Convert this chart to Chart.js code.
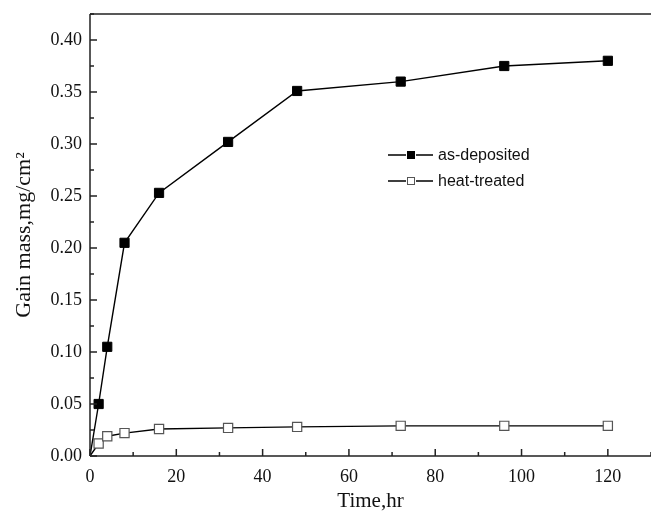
<!DOCTYPE html>
<html>
<head>
<meta charset="utf-8">
<script src="https://cdn.jsdelivr.net/npm/chart.js@4.4.0/dist/chart.umd.min.js"></script>
<style>
html,body{margin:0;padding:0;background:#fff;overflow:hidden;}
#wrap{position:relative;width:651px;height:514px;}
</style>
</head>
<body>
<div id="wrap"><canvas id="c" width="651" height="514"></canvas></div>
<script>
const timeHr = [0, 2, 4, 8, 16, 32, 48, 72, 96, 120];
const asDeposited = [0, 0.050, 0.105, 0.205, 0.253, 0.302, 0.351, 0.360, 0.375, 0.380];
const heatTreated = [0, 0.012, 0.019, 0.022, 0.026, 0.027, 0.028, 0.029, 0.029, 0.029];
const xTicks = [0, 20, 40, 60, 80, 100, 120];
const yTicks = [0, 0.05, 0.10, 0.15, 0.20, 0.25, 0.30, 0.35, 0.40];
const seriesNames = ['as-deposited', 'heat-treated'];

const toPts = (ys) => timeHr.map((x, i) => ({x: x, y: ys[i]}));
const radii = timeHr.map((x, i) => i === 0 ? 0 : 6.5);

const serif = 'Liberation Serif, Times New Roman, serif';
const sans = 'Liberation Sans, Arial, sans-serif';

const axesDecor = {
  id: 'axesDecor',
  afterDraw(chart) {
    const ctx = chart.ctx, a = chart.chartArea;
    const xs = chart.scales.x, ys = chart.scales.y;
    ctx.save();
    ctx.strokeStyle = '#222';
    ctx.lineWidth = 1.5;
    ctx.beginPath();
    ctx.moveTo(a.left, a.top); ctx.lineTo(a.right, a.top);
    ctx.moveTo(a.left, a.top); ctx.lineTo(a.left, a.bottom);
    ctx.moveTo(a.left, a.bottom); ctx.lineTo(a.right, a.bottom);
    ctx.stroke();
    ctx.beginPath();
    for (let v = 0; v <= xs.max; v += 10) {
      const px = xs.getPixelForValue(v);
      const len = (v % 20 === 0) ? 7 : 4;
      ctx.moveTo(px, a.bottom); ctx.lineTo(px, a.bottom - len);
    }
    for (let k = 0; k <= 17; k++) {
      const v = k * 0.025;
      if (v > ys.max + 1e-9) break;
      const py = ys.getPixelForValue(v);
      const len = (k % 2 === 0) ? 7 : 4;
      ctx.moveTo(a.left, py); ctx.lineTo(a.left + len, py);
    }
    ctx.stroke();
    // legend
    const rows = [155, 181];
    const dsets = chart.data.datasets;
    ctx.font = '16px ' + sans;
    ctx.textBaseline = 'middle';
    rows.forEach((ry, i) => {
      const ds = dsets[i];
      ctx.strokeStyle = '#000';
      ctx.lineWidth = 1.3;
      ctx.beginPath();
      ctx.moveTo(388, ry); ctx.lineTo(406, ry);
      ctx.moveTo(416, ry); ctx.lineTo(433, ry);
      ctx.stroke();
      ctx.fillStyle = ds.pointBackgroundColor;
      ctx.fillRect(407, ry - 4, 8, 8);
      ctx.strokeStyle = ds.pointBorderColor;
      ctx.lineWidth = 1;
      ctx.strokeRect(407.5, ry - 3.5, 7, 7);
      ctx.fillStyle = '#111';
      ctx.fillText(seriesNames[i], 438, ry + 1);
    });
    ctx.restore();
  }
};

new Chart(document.getElementById('c'), {
  type: 'line',
  data: {
    datasets: [
      {
        label: seriesNames[0],
        data: toPts(asDeposited),
        borderColor: '#000',
        borderWidth: 1.4,
        pointStyle: 'rect',
        pointRadius: radii,
        pointBackgroundColor: '#000',
        pointBorderColor: '#000',
        pointBorderWidth: 1,
        tension: 0
      },
      {
        label: seriesNames[1],
        data: toPts(heatTreated),
        borderColor: '#000',
        borderWidth: 1.4,
        pointStyle: 'rect',
        pointRadius: radii,
        pointBackgroundColor: '#fff',
        pointBorderColor: '#555',
        pointBorderWidth: 1.2,
        tension: 0
      }
    ]
  },
  options: {
    responsive: false,
    animation: false,
    events: [],
    layout: { autoPadding: false, padding: { top: 14, right: 0, left: 0, bottom: 0 } },
    plugins: { legend: { display: false }, tooltip: { enabled: false } },
    scales: {
      x: {
        type: 'linear',
        min: 0, max: 130,
        afterFit(s) { s.height = 58; s.paddingLeft = 0; s.paddingRight = 0; },
        afterBuildTicks(s) { s.ticks = xTicks.map(v => ({value: v})); },
        grid: { display: false, drawTicks: false },
        border: { display: false },
        ticks: {
          color: '#111',
          font: { family: serif, size: 18 },
          padding: 10,
          maxRotation: 0,
          autoSkip: false,
          callback: (v) => String(v)
        },
        title: {
          display: true,
          text: 'Time,hr',
          color: '#111',
          font: { family: serif, size: 21 },
          padding: { top: 0, bottom: 0 }
        }
      },
      y: {
        type: 'linear',
        min: 0, max: 0.425,
        afterFit(s) { s.width = 90; s.paddingTop = 0; s.paddingBottom = 0; },
        afterBuildTicks(s) { s.ticks = yTicks.map(v => ({value: v})); },
        grid: { display: false, drawTicks: false },
        border: { display: false },
        ticks: {
          color: '#111',
          font: { family: serif, size: 18 },
          padding: 8,
          autoSkip: false,
          callback: (v) => v.toFixed(2)
        },
        title: {
          display: true,
          text: 'Gain mass,mg/cm²',
          color: '#111',
          font: { family: serif, size: 22 },
          padding: { top: 11, bottom: 0 }
        }
      }
    }
  },
  plugins: [axesDecor]
});
</script>
</body>
</html>
